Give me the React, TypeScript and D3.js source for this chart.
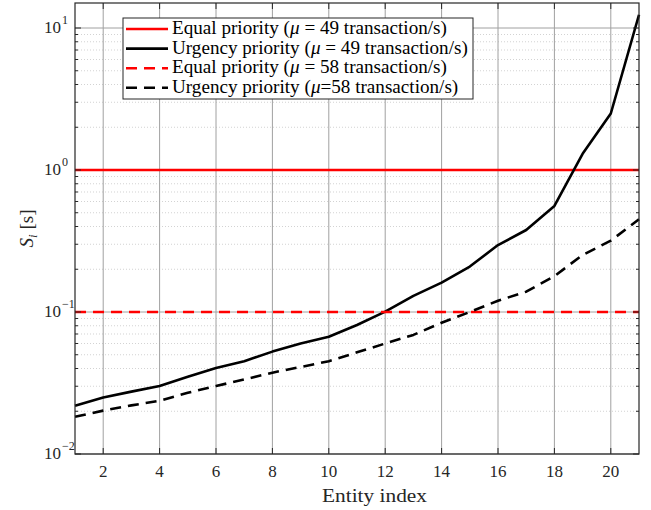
import React, { useLayoutEffect, useRef, useState } from "react";
import * as d3 from "d3";

const entityIndex = [1, 2, 3, 4, 5, 6, 7, 8, 9, 10, 11, 12, 13, 14, 15, 16, 17, 18, 19, 20, 21];
const equal49 = [1, 1, 1, 1, 1, 1, 1, 1, 1, 1, 1, 1, 1, 1, 1, 1, 1, 1, 1, 1, 1];
const urgency49 = [0.0219, 0.025, 0.0275, 0.0301, 0.035, 0.0403, 0.045, 0.0526, 0.06, 0.067, 0.081, 0.1005, 0.13, 0.161, 0.209, 0.296, 0.378, 0.558, 1.3, 2.5, 12.4];
const equal58 = [0.1, 0.1, 0.1, 0.1, 0.1, 0.1, 0.1, 0.1, 0.1, 0.1, 0.1, 0.1, 0.1, 0.1, 0.1, 0.1, 0.1, 0.1, 0.1, 0.1, 0.1];
const urgency58 = [0.0183, 0.0202, 0.022, 0.0237, 0.027, 0.0301, 0.0335, 0.0374, 0.041, 0.045, 0.052, 0.06, 0.069, 0.084, 0.1, 0.12, 0.139, 0.179, 0.252, 0.318, 0.45];
const xTicks = [2, 4, 6, 8, 10, 12, 14, 16, 18, 20];
const yTicks = [0.01, 0.1, 1, 10];
const yTickExp = ["\u22122", "\u22121", "0", "1"];

const legendItems = [
  { pre: "Equal priority (", mid: "\u00a0=\u00a049 transaction/s)", color: "#ff0000", dash: "" },
  { pre: "Urgency priority (", mid: "\u00a0=\u00a049 transaction/s)", color: "#000000", dash: "" },
  { pre: "Equal priority (", mid: "\u00a0=\u00a058 transaction/s)", color: "#ff0000", dash: "11,7" },
  { pre: "Urgency priority (", mid: "=58 transaction/s)", color: "#000000", dash: "11,7" },
];

const FONT = "'Liberation Serif', 'Times New Roman', 'DejaVu Serif', serif";

export default function App() {
  const W = 651, H = 510;
  const L = 75, R = 639, T = 3, B = 454;
  const x = d3.scaleLinear().domain([1, 21]).range([L, R]);
  const y = d3.scaleLog().domain([0.01, 15]).range([B, T]);

  const minor: number[] = [];
  for (const dec of [0.01, 0.1, 1, 10]) {
    for (let k = 2; k <= 9; k++) {
      const v = dec * k;
      if (v <= 15) minor.push(v);
    }
  }

  const line = (vals: number[]) =>
    d3.line<number>().x((_, i) => x(entityIndex[i])).y((v) => y(v))(vals) || "";

  const series = [
    { vals: equal49, color: "#ff0000", dash: "" },
    { vals: urgency49, color: "#000000", dash: "" },
    { vals: equal58, color: "#ff0000", dash: "11,7" },
    { vals: urgency58, color: "#000000", dash: "11,7" },
  ];

  const preRefs = useRef<(SVGTextElement | null)[]>([]);
  const muRefs = useRef<(SVGTextElement | null)[]>([]);
  const midRefs = useRef<(SVGTextElement | null)[]>([]);
  const [lay, setLay] = useState<{ k: number; w1: number[]; w2: number[] } | null>(null);

  const baseFs = 17;
  useLayoutEffect(() => {
    const w1 = legendItems.map((_, i) => preRefs.current[i]?.getComputedTextLength() || 0);
    const w2 = legendItems.map((_, i) => muRefs.current[i]?.getComputedTextLength() || 0);
    const w3 = legendItems.map((_, i) => midRefs.current[i]?.getComputedTextLength() || 0);
    const total = w1[0] + w2[0] + w3[0];
    const k = total > 0 ? 275 / total : 1;
    setLay({ k, w1, w2 });
  }, []);

  const k = lay ? lay.k : 1;
  const lgFs = baseFs * k;

  const lgX = 123, lgY = 18, lgW = 350, lgH = 81;
  const tickFs = 17;
  const ts = { fontFamily: FONT };

  return (
    <svg width={W} height={H} style={{ position: "absolute", left: 0, top: 0, background: "#fff", fontFamily: FONT }}>
      <rect x={0} y={0} width={W} height={H} fill="#fff" />
      {minor.map((v, i) => (
        <line key={"mg" + i} x1={L} x2={R} y1={y(v)} y2={y(v)} stroke="#c8c8c8" strokeWidth={0.8} strokeDasharray="1,2" />
      ))}
      {yTicks.map((v, i) => (
        <line key={"yg" + i} x1={L} x2={R} y1={y(v)} y2={y(v)} stroke="#a0a0a0" strokeWidth={1} />
      ))}
      {xTicks.map((v, i) => (
        <line key={"xg" + i} x1={x(v)} x2={x(v)} y1={T} y2={B} stroke="#a0a0a0" strokeWidth={1} />
      ))}
      {series.map((s, i) => (
        <path key={"s" + i} d={line(s.vals)} fill="none" stroke={s.color} strokeWidth={2.6} strokeDasharray={s.dash || undefined} strokeLinejoin="round" />
      ))}
      <rect x={L} y={T} width={R - L} height={B - T} fill="none" stroke="#262626" strokeWidth={1.2} />
      {xTicks.map((v, i) => (
        <g key={"xt" + i}>
          <line x1={x(v)} x2={x(v)} y1={B} y2={B - 6} stroke="#262626" />
          <line x1={x(v)} x2={x(v)} y1={T} y2={T + 6} stroke="#262626" />
          <text style={ts} x={x(v)} y={477} textAnchor="middle" fontSize={tickFs} fill="#262626">{v}</text>
        </g>
      ))}
      {yTicks.map((v, i) => (
        <g key={"yt" + i}>
          <line x1={L} x2={L + 6} y1={y(v)} y2={y(v)} stroke="#262626" />
          <line x1={R} x2={R - 6} y1={y(v)} y2={y(v)} stroke="#262626" />
          <text style={ts} x={61} y={y(v) + 5} textAnchor="end" fontSize={tickFs} fill="#262626">10</text>
          <text style={ts} x={62} y={y(v) - 4} textAnchor="start" fontSize={12} fill="#262626">{yTickExp[i]}</text>
        </g>
      ))}
      {minor.map((v, i) => (
        <g key={"mt" + i}>
          <line x1={L} x2={L + 3} y1={y(v)} y2={y(v)} stroke="#262626" />
          <line x1={R} x2={R - 3} y1={y(v)} y2={y(v)} stroke="#262626" />
        </g>
      ))}
      <text style={ts} x={322} y={502} textLength={105} lengthAdjust="spacingAndGlyphs" fontSize={19} fill="#262626">Entity index</text>
      <g transform={`translate(33, ${(T + B) / 2}) rotate(-90)`}>
        <text style={ts} textAnchor="middle" fontSize={19} fill="#262626">
          <tspan fontStyle="italic">S</tspan>
          <tspan fontStyle="italic" fontSize={13} dy={4}>i</tspan>
          <tspan dy={-4}>{"\u00a0[s]"}</tspan>
        </text>
      </g>
      <rect x={lgX} y={lgY} width={lgW} height={lgH} fill="#fff" stroke="#262626" strokeWidth={1} />
      {legendItems.map((it, i) => {
        const cy = 29 + i * 19.6;
        const x0 = 172;
        const w1 = lay ? lay.w1[i] * k : 0;
        const w2 = lay ? lay.w2[i] * k : 0;
        return (
          <g key={"lg" + i}>
            <line x1={126} x2={168} y1={cy} y2={cy} stroke={it.color} strokeWidth={2.6} strokeDasharray={it.dash || undefined} />
            <text ref={(el) => { preRefs.current[i] = el; }} style={ts} x={x0} y={cy + 5} fontSize={lgFs} fill="#000">{it.pre}</text>
            <text ref={(el) => { muRefs.current[i] = el; }} style={ts} x={x0 + w1} y={cy + 5} fontSize={lgFs} fontStyle="italic" fill="#000">{"\u03bc"}</text>
            <text ref={(el) => { midRefs.current[i] = el; }} style={ts} x={x0 + w1 + w2} y={cy + 5} fontSize={lgFs} fill="#000">{it.mid}</text>
          </g>
        );
      })}
    </svg>
  );
}
